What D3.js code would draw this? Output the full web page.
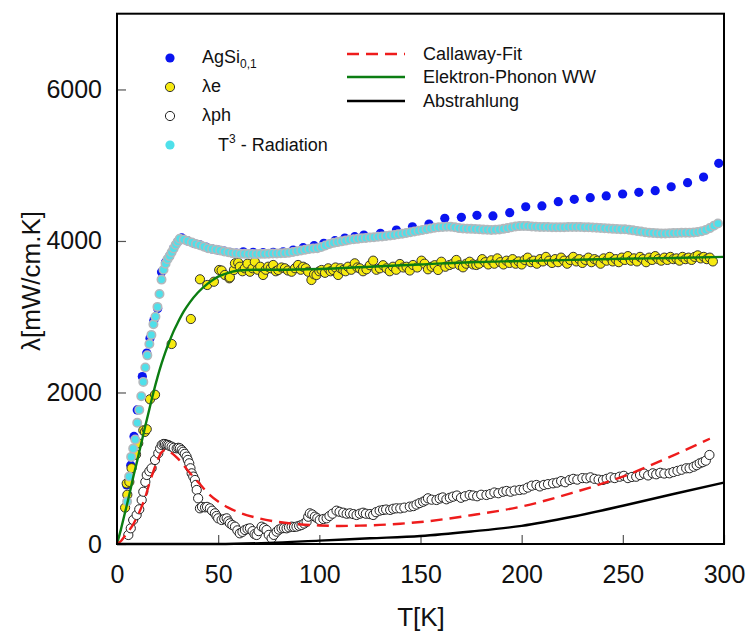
<!DOCTYPE html>
<html><head><meta charset="utf-8">
<script src="https://cdn.jsdelivr.net/npm/d3@7"></script>
<style>body{margin:0;background:#fff}svg{display:block;font-family:Arial,"Liberation Sans",sans-serif}</style>
</head><body>
<script>
// ---------- DATA ----------
const xTicks = [0, 50, 100, 150, 200, 250, 300];
const yTicks = [0, 2000, 4000, 6000];

// AgSi0,1 (blue filled)
const agT = [4.8,6.8,8.4,10,12.5,14.7,16.3,18.2,20.1,22,24,26,28,30,32,35,38,41,44,47,50,53,56,59,62.4,67.3,72.2,77.2,82.1,87.1,92,97.4,102.2,107.7,112.6,117.5,122,130.2,138.1,146,154.2,162,170.2,177.9,185.8,194.1,202,210,218.1,226,233.9,241.8,249.9,257.9,266,273.9,282,289.9,297.4];
const agV = [780,1040,1420,1770,2210,2520,2715,2950,3110,3590,3720,3800,3900,3990,4040,4000,3970,3950,3920,3895,3880,3865,3850,3840,3858,3850,3845,3850,3858,3881,3911,3938,3969,4004,4039,4057,4079,4101,4145,4188,4224,4299,4312,4339,4330,4373,4452,4462,4519,4550,4572,4594,4620,4642,4664,4716,4770,4844,5025];

// lambda_e (yellow)
const eT = [4,4.8,5.1,6.1,7.2,8.9,9.4,10.5,13,13.8,14.7,16.3,18.8,27,36.5,41,44.6,47.9,50.5,51.7,53.3,55.5,55.8,57.8,58.3,59.9,60.7,62,63.2,64.5,65.7,67,68.1,69.5,70.8,72.2,73.5,74.7,76,77.2,78.5,79.7,81.3,83,84.5,86.3,88,89.5,90.8,92,93.3,94.5,96.1,97.4,98.6,100,101.1,102.8,104.4,105.6,106.8,108,109.3,110.5,111.8,113,114.2,115.8,117.5,118.8,120,121.6,123.3,125,126.6,128.2,129.9,131.5,133.2,134.8,136.4,138,139.8,141.5,143.1,144.7,146.3,148.4,150.5,152,153.7,155.5,157,158.7,160.3,162.3,164.4,166,167.7,169.3,171,172.6,174.3,176,177.6,179,180.5,182,183.5,185,186.5,188,189.5,191,192.5,194,195.5,197,198.5,200,201.5,203,204.5,206,207.5,209,210.5,212,213.5,215,216.5,218,219.5,221,222.5,224,225.5,227,228.5,230,231.5,233,234.5,236,237.5,239,240.5,242,243.5,245,246.5,248,249.5,251,252.5,254,255.5,257,258.5,260,261.5,263,264.5,266,267.5,269,270.5,272,273.5,275,276.5,278,279.5,281,282.5,284,285.5,287,288.5,290,291.5,293,294.5];
const eV = [480,800,650,820,1000,1175,1180,1330,1500,1480,1515,1910,1970,2640,2970,3494,3419,3462,3617,3610,3551,3507,3520,3617,3705,3713,3660,3600,3639,3700,3594,3640,3726,3620,3660,3551,3620,3660,3640,3683,3600,3617,3650,3639,3610,3594,3640,3683,3620,3660,3640,3594,3485,3560,3551,3600,3617,3580,3639,3600,3617,3650,3551,3640,3617,3600,3660,3620,3705,3650,3639,3600,3626,3680,3740,3620,3639,3680,3639,3600,3660,3620,3696,3650,3660,3610,3683,3650,3740,3700,3626,3660,3680,3617,3726,3660,3683,3700,3749,3680,3652,3700,3726,3690,3683,3700,3760,3720,3690,3745,3700,3770,3720,3690,3740,3710,3760,3700,3730,3690,3750,3780,3720,3740,3700,3760,3730,3790,3740,3710,3760,3720,3780,3740,3700,3750,3790,3730,3760,3710,3750,3780,3720,3760,3740,3700,3770,3740,3790,3730,3760,3720,3780,3750,3800,3740,3770,3730,3790,3760,3720,3780,3750,3800,3760,3740,3780,3750,3790,3760,3770,3740,3790,3760,3780,3750,3790,3810,3770,3790,3760,3780,3730];

// lambda_ph (open circles)
const phT = [5.6,6.8,8,9.7,11,12.2,13,14,14.7,16,17.1,18.8,20.4,21.3,22.1,23,23.7,24.5,25.3,26,27,28,29.5,30.3,31.1,32,32.7,33.5,34.4,35,35.7,36.3,36.9,37.7,38.5,39,39.4,40.1,41,42,43.5,44.5,45.9,47,48.4,49.2,50,51.7,53,54.2,55,55.8,57,58.3,59.5,60.7,62,63.2,64.5,65.7,67,68,69,70,71.5,72.7,73.9,75,76.4,77.5,78.9,80,81.3,82.5,83.8,85,86.3,87.5,88.7,90,91.2,92.5,93.7,94.5,95.3,96.5,97.8,99,100.2,102,103.6,105,106.5,108.5,110,111.8,113.5,115.1,116.8,118.4,120,121.6,123,125,126.6,128,129.8,131.5,133,135,136.5,138.1,140,142,144.7,146.5,148,149.6,151.3,152.5,153.7,155.5,157.9,159.5,161,162.8,164.5,166.1,168,170,172,174.3,176,178,180,182.6,184.5,186.5,188.5,190.8,192.5,194.5,196.5,199,201,203,205,207.3,209,211,213,215.5,217.5,219.5,221.5,223.7,225.5,227.5,230,232,234,236,238,240.2,242,244,246,248.4,250.5,252.5,254.5,256.6,258.5,260.5,262.5,264.8,266.5,268.5,270.5,273.1,275,277,279,281.3,283,285,286.5,288,289.5,291,292.8];
const phV = [119,207,317,383,458,581,690,820,911,960,999,1109,1197,1260,1307,1320,1320,1310,1307,1295,1285,1270,1263,1270,1263,1240,1218,1190,1153,1110,1065,1000,933,890,845,780,713,603,471,490,484,490,471,440,405,370,339,317,330,339,300,273,250,229,180,141,160,185,200,207,170,130,119,170,229,210,185,120,75,120,163,190,207,210,207,220,229,225,229,240,251,270,294,360,405,390,361,340,317,330,339,370,400,440,425,413,400,405,395,383,400,413,400,395,383,420,440,449,455,450,465,471,470,480,493,500,520,540,558,575,603,585,581,600,615,590,610,625,640,610,630,647,640,630,650,647,660,680,670,690,700,690,705,713,720,745,770,779,760,780,790,801,810,830,815,845,860,850,870,867,880,860,850,845,860,880,870,888,900,870,885,888,910,930,905,933,920,940,930,933,950,965,980,999,1000,1020,1040,1065,1080,1100,1175];

// T^3 - Radiation (cyan)
const radT = [5,6,7,8,9,10,11,12,13,14,15,16,17,18,19,20,21,22,23,24,25,26,27,28,29,30,31,33,35,37,39,41,43,45,47,49,51,53,55,57,59,61,63,65,67,69,71,73,75,77,79,81,83,85,87,89,91,93,95,97,99,101,103,105,107,109,111,113,115,117,119,121,123,125,127,129,131,133,135,137,139,141,143,145,147,149,151,153,155,157,159,161,163,165,167,169,171,173,175,177,179,181,183,185,187,189,191,193,195,197,199,201,203,205,207,209,211,213,215,217,219,221,223,225,227,229,231,233,235,237,239,241,243,245,247,249,251,253,255,257,259,261,263,265,267,269,271,273,275,277,279,281,283,285,287,289,291,293,295,297];
const radV = [560,890,1150,1260,1380,1600,1770,1950,2140,2330,2490,2640,2760,2900,3000,3130,3300,3490,3620,3700,3760,3800,3850,3900,3950,3990,4030,4020,4000,3980,3960,3945,3925,3905,3895,3885,3875,3860,3850,3840,3835,3830,3830,3828,3828,3828,3830,3830,3832,3835,3835,3837,3840,3845,3855,3865,3875,3885,3893,3900,3905,3920,3940,3960,3975,3985,3995,4005,4015,4022,4028,4035,4040,4045,4050,4055,4060,4066,4072,4080,4088,4096,4105,4115,4125,4135,4145,4155,4165,4175,4180,4185,4188,4188,4180,4170,4165,4162,4160,4158,4155,4150,4148,4146,4148,4152,4160,4170,4180,4190,4196,4198,4196,4192,4188,4186,4185,4184,4182,4181,4180,4182,4184,4186,4186,4184,4182,4180,4178,4176,4172,4168,4164,4160,4158,4156,4154,4148,4140,4132,4124,4116,4110,4105,4102,4100,4100,4102,4104,4106,4108,4110,4110,4112,4118,4128,4145,4170,4200,4230];

// Callaway-Fit (red dashed)
const calT = [0,2,4,6,8,10,12,14,16,18,20,22,24,26,28,30,35,40,45,50,55,60,70,80,90,100,110,120,130,140,150,175,200,225,250,275,293];
const calV = [0,40,110,180,260,360,480,620,800,960,1100,1210,1240,1220,1180,1130,970,820,670,560,480,420,340,290,260,245,238,242,252,268,290,380,495,675,890,1170,1390];

// Elektron-Phonon WW (green)
const epT = [0,2,4,6,8,10,12,14,16,18,20,22,24,26,28,30,33,36,40,45,50,55,60,70,80,100,125,150,175,200,225,250,275,300];
const epV = [0,200,420,640,880,1100,1330,1560,1780,2000,2200,2380,2540,2680,2810,2920,3070,3190,3320,3440,3530,3580,3610,3620,3620,3630,3660,3690,3720,3735,3750,3765,3775,3790];

// Abstrahlung (black)
const abT = [0,50,75,100,125,150,175,200,225,250,275,300];
const abV = [0,0,15,45,75,105,165,240,360,505,660,810];

// ---------- DRAW ----------
const W = 747, H = 632;
const svg = d3.select("body").append("svg").attr("width", W).attr("height", H);
const x = d3.scaleLinear().domain([0, 300]).range([117, 724]);
const y = d3.scaleLinear().domain([0, 7000]).range([544, 13.7]);

const zip = (a, b) => a.map((t, i) => [t, b[i]]);

// axes
const xAxis = d3.axisBottom(x).tickValues(xTicks).tickSize(-9).tickPadding(21).tickFormat(d3.format("d"));
const gx = svg.append("g").attr("transform", "translate(0,544)").call(xAxis);
const yAxis = d3.axisLeft(y).tickValues(yTicks).tickSize(-9).tickPadding(15).tickFormat(d3.format("d"));
const gy = svg.append("g").attr("transform", "translate(117,0)").call(yAxis);
[gx, gy].forEach(g => {
  g.select(".domain").remove();
  g.selectAll(".tick line").attr("stroke", "#555").attr("stroke-width", 1.2);
  g.selectAll(".tick text").attr("font-size", 25).attr("fill", "#111").attr("font-family", "Arial, 'Liberation Sans', sans-serif");
});

const plot = svg.append("g");

// blue
plot.selectAll("circle.ag").data(zip(agT, agV)).join("circle")
  .attr("cx", d => x(d[0])).attr("cy", d => y(d[1])).attr("r", 4.6)
  .attr("fill", "#0a14f0");

// yellow
plot.selectAll("circle.e").data(zip(eT, eV)).join("circle").attr("class","e")
  .attr("cx", d => x(d[0])).attr("cy", d => y(d[1])).attr("r", 4.6)
  .attr("fill", "#f7ea10").attr("stroke", "#333").attr("stroke-width", 1);

// open
plot.selectAll("circle.ph").data(zip(phT, phV)).join("circle").attr("class","ph")
  .attr("cx", d => x(d[0])).attr("cy", d => y(d[1])).attr("r", 4.6)
  .attr("fill", "#fff").attr("stroke", "#222").attr("stroke-width", 1);

// cyan radiation with gray halo
plot.selectAll("circle.rad").data(zip(radT, radV)).join("circle").attr("class","rad")
  .attr("cx", d => x(d[0])).attr("cy", d => y(d[1])).attr("r", 4.2)
  .attr("fill", "#4fe0ea").attr("stroke", "#b4b8bc").attr("stroke-width", 1.6);

// lines
const line = d3.line().x(d => x(d[0])).y(d => y(d[1])).curve(d3.curveMonotoneX);
plot.append("path").datum(zip(epT, epV)).attr("d", line).attr("fill", "none").attr("stroke", "#0b7d12").attr("stroke-width", 2.4);
plot.append("path").datum(zip(calT, calV)).attr("d", line).attr("fill", "none").attr("stroke", "#ee1c1c").attr("stroke-width", 2.4).attr("stroke-dasharray", "12,7");
plot.append("path").datum(zip(abT, abV)).attr("d", line).attr("fill", "none").attr("stroke", "#000").attr("stroke-width", 2.4);

// frame
svg.append("rect").attr("x", 117).attr("y", 13.7).attr("width", 607).attr("height", 530.3)
  .attr("fill", "none").attr("stroke", "#000").attr("stroke-width", 2);

// axis titles
svg.append("text").attr("x", 421).attr("y", 626).attr("text-anchor", "middle")
  .attr("font-size", 26).attr("fill", "#111").text("T[K]");
svg.append("text").attr("transform", "translate(40,281) rotate(-90)").attr("text-anchor", "middle")
  .attr("font-size", 26).attr("fill", "#111").text("λ[mW/cm.K]");

// legend left
const lg = svg.append("g").attr("font-size", 18).attr("fill", "#111");
lg.append("circle").attr("cx", 170).attr("cy", 58).attr("r", 4.6).attr("fill", "#0a14f0");
lg.append("circle").attr("cx", 170).attr("cy", 87).attr("r", 4.6).attr("fill", "#f7ea10").attr("stroke", "#333");
lg.append("circle").attr("cx", 170).attr("cy", 116).attr("r", 4.6).attr("fill", "#fff").attr("stroke", "#222");
lg.append("circle").attr("cx", 170).attr("cy", 145).attr("r", 4.6).attr("fill", "#4fe0ea");
const t1 = lg.append("text").attr("x", 202).attr("y", 63);
t1.append("tspan").text("AgSi");
t1.append("tspan").attr("font-size", 12).attr("dy", 5).text("0,1");
const t2 = lg.append("text").attr("x", 202).attr("y", 92);
t2.append("tspan").text("λe");
const t3 = lg.append("text").attr("x", 202).attr("y", 121);
t3.append("tspan").text("λph");
const t4 = lg.append("text").attr("x", 218).attr("y", 151);
t4.append("tspan").text("T");
t4.append("tspan").attr("font-size", 12).attr("dy", -8).text("3");
t4.append("tspan").attr("dy", 8).text(" - Radiation");

// legend right
const lr = svg.append("g").attr("font-size", 18).attr("fill", "#111");
const lItems = [
  {label: "Callaway-Fit", color: "#ee1c1c", dash: "12,7", yy: 54},
  {label: "Elektron-Phonon WW", color: "#0b7d12", dash: null, yy: 77},
  {label: "Abstrahlung", color: "#000", dash: null, yy: 101}
];
lItems.forEach(it => {
  lr.append("line").attr("x1", 347).attr("x2", 405).attr("y1", it.yy).attr("y2", it.yy)
    .attr("stroke", it.color).attr("stroke-width", 2.4).attr("stroke-dasharray", it.dash);
  lr.append("text").attr("x", 423).attr("y", it.yy + 6).text(it.label);
});
</script>
</body></html>
